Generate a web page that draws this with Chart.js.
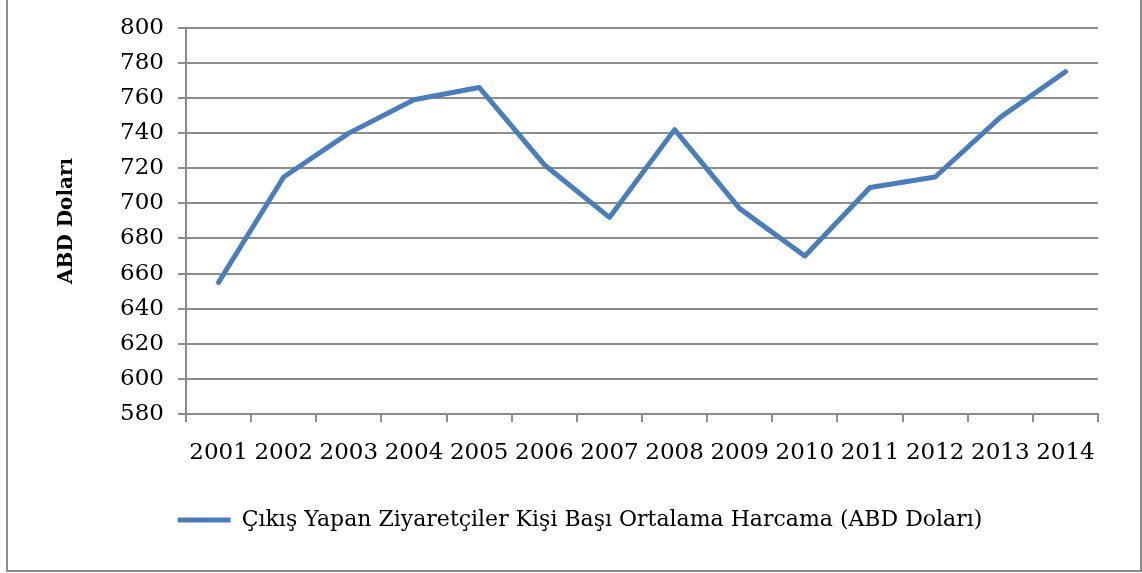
<!DOCTYPE html>
<html>
<head>
<meta charset="utf-8">
<script src="https://cdn.jsdelivr.net/npm/chart.js@4/dist/chart.umd.min.js"></script>
<style>
    html, body { margin: 0; padding: 0; background: #fff; overflow: hidden; }
    #wrap { position: relative; width: 1142px; height: 573px; }
    #chart { position: absolute; left: 0; top: 0; }
    #frame {
        position: absolute; left: 6px; top: -10px; width: 1132px; height: 578px;
        border: 2px solid #8c8c8c; pointer-events: none;
    }
</style>
</head>
<body>
<div id="wrap">
    <canvas id="chart" width="1142" height="573"></canvas>
    <div id="frame"></div>
</div>
<script>
// values
const years = ['2001', '2002', '2003', '2004', '2005', '2006', '2007',
               '2008', '2009', '2010', '2011', '2012', '2013', '2014'];
const spending = [655, 715, 740, 759, 766, 722, 692, 742, 697, 670, 709, 715, 749, 775];
const seriesLabel = 'Çıkış Yapan Ziyaretçiler Kişi Başı Ortalama Harcama (ABD Doları)';
const yTitle = 'ABD Doları';
const yMin = 580, yMax = 800, yStep = 20;

const LINE_BLUE = '#4a7ebb';
const GRID_GRAY = '#8c8c8c';
const SERIF = '"DejaVu Serif", "Liberation Serif", serif';

Chart.defaults.font.family = SERIF;
Chart.defaults.color = '#000';

// legend in the original sits a bit right of the canvas centre
const legendShift = {
    id: 'legendShift',
    afterLayout(chart) {
        chart.legend.left += 31;
        chart.legend.right += 31;
    }
};

new Chart(document.getElementById('chart'), {
    type: 'line',
    data: {
        labels: years,
        datasets: [{
            label: seriesLabel,
            data: spending,
            borderColor: LINE_BLUE,
            backgroundColor: LINE_BLUE,
            borderWidth: 5,
            borderCapStyle: 'round',
            borderJoinStyle: 'round',
            pointRadius: 0,
            tension: 0
        }]
    },
    options: {
        responsive: false,
        animation: false,
        layout: { padding: { top: 16, right: 44, left: 0, bottom: 32 } },
        scales: {
            x: {
                offset: true,
                grid: {
                    offset: true,
                    drawOnChartArea: false,
                    drawTicks: true,
                    tickLength: 8,
                    color: GRID_GRAY,
                    lineWidth: 2
                },
                border: { color: GRID_GRAY, width: 2 },
                ticks: { font: { size: 23 }, padding: 17, maxRotation: 0, autoSkip: false },
                afterFit: (scale) => { scale.height = 85; }
            },
            y: {
                min: yMin,
                max: yMax,
                grid: { color: GRID_GRAY, lineWidth: 2, tickLength: 8 },
                border: { color: GRID_GRAY, width: 2 },
                ticks: { stepSize: yStep, font: { size: 23 }, padding: 14 },
                title: {
                    display: true,
                    text: yTitle,
                    font: { size: 20, weight: 'bold' },
                    padding: { top: 55, bottom: 0 }
                },
                afterFit: (scale) => { scale.width = 186; }
            }
        },
        plugins: {
            legend: {
                position: 'bottom',
                labels: {
                    font: { size: 22 },
                    boxWidth: 53,
                    boxHeight: 5,
                    padding: 10,
                    generateLabels: (chart) => Chart.defaults.plugins.legend.labels.generateLabels(chart)
                        .map((item) => ({ ...item, lineWidth: 0, fillStyle: LINE_BLUE }))
                }
            },
            tooltip: { enabled: false }
        }
    },
    plugins: [legendShift]
});
</script>
</body>
</html>
